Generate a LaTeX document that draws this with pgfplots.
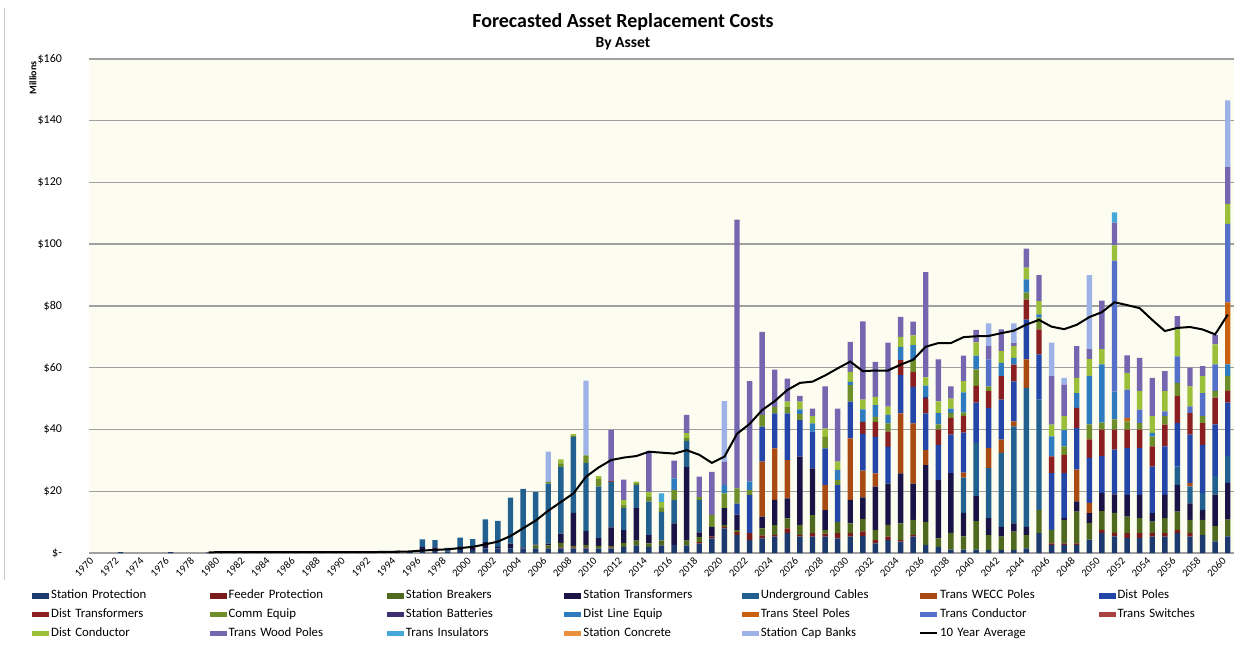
\documentclass[border=0pt]{standalone}
\usepackage{pgfplots}
\pgfplotsset{compat=1.18}
\usepackage{pgfplotstable}
\usepackage{fontspec}
\setmainfont{Carlito}

\definecolor{cSP}{HTML}{1C3A6E}
\definecolor{cFP}{HTML}{7A1C1C}
\definecolor{cSB}{HTML}{4F6A1E}
\definecolor{cST}{HTML}{1A1446}
\definecolor{cUC}{HTML}{22608F}
\definecolor{cWE}{HTML}{A84A12}
\definecolor{cDP}{HTML}{2446A8}
\definecolor{cDT}{HTML}{8B1E20}
\definecolor{cCE}{HTML}{6E8E2A}
\definecolor{cSBA}{HTML}{3E2F6E}
\definecolor{cDLE}{HTML}{2E7BBF}
\definecolor{cTSP}{HTML}{C8600F}
\definecolor{cTC}{HTML}{5470C8}
\definecolor{cTS}{HTML}{A8413F}
\definecolor{cDC}{HTML}{9CBF3A}
\definecolor{cTWP}{HTML}{7566B0}
\definecolor{cTI}{HTML}{45A8D8}
\definecolor{cSC}{HTML}{E8903E}
\definecolor{cSCB}{HTML}{9DB2E6}
\definecolor{bgc}{RGB}{252,253,240}
\definecolor{gridc}{HTML}{A0A0A0}

\pgfplotstableread{
yr sp fp sb st uc we dp dt ce sba dle tsp tc ts dc twp ti sc scb
1970 0 0 0 0 0 0 0 0 0 0 0 0 0 0 0 0 0 0 0
1971 0 0 0 0 0 0 0 0 0 0 0 0 0 0 0 0 0 0 0
1972 0.3 0 0 0 0 0 0 0 0 0 0 0 0 0 0 0 0 0 0
1973 0 0 0 0 0 0 0 0 0 0 0 0 0 0 0 0 0 0 0
1974 0 0 0 0 0 0 0 0 0 0 0 0 0 0 0 0 0 0 0
1975 0 0 0 0 0 0 0 0 0 0 0 0 0 0 0 0 0 0 0
1976 0.3 0 0 0 0 0 0 0 0 0 0 0 0 0 0 0 0 0 0
1977 0 0 0 0 0 0 0 0 0 0 0 0 0 0 0 0 0 0 0
1978 0 0 0 0 0 0 0 0 0 0 0 0 0 0 0 0 0 0 0
1979 0.2 0 0 0 0 0 0 0 0 0 0 0 0 0 0 0 0 0 0
1980 0.3 0 0 0 0 0 0 0 0 0 0 0 0 0 0 0 0 0 0
1981 0.3 0 0 0 0 0 0 0 0 0 0 0 0 0 0 0 0 0 0
1982 0.3 0 0 0 0 0 0 0 0 0 0 0 0 0 0 0 0 0 0
1983 0.3 0 0 0 0 0 0 0 0 0 0 0 0 0 0 0 0 0 0
1984 0.3 0 0 0 0 0 0 0 0 0 0 0 0 0 0 0 0 0 0
1985 0.3 0 0 0 0 0 0 0 0 0 0 0 0 0 0 0 0 0 0
1986 0.3 0 0 0 0 0 0 0 0 0 0 0 0 0 0 0 0 0 0
1987 0.3 0 0 0 0 0 0 0 0 0 0 0 0 0 0 0 0 0 0
1988 0.4 0 0 0 0 0 0 0 0 0 0 0 0 0 0 0 0 0 0
1989 0.3 0 0 0 0 0 0 0 0 0 0 0 0 0 0 0 0 0 0
1990 0.3 0 0 0 0 0 0 0 0 0 0 0 0 0 0 0 0 0 0
1991 0.3 0 0 0 0 0 0 0 0 0 0 0 0 0 0 0 0 0 0
1992 0.5 0 0 0 0 0 0 0 0 0 0 0 0 0 0 0 0 0 0
1993 0.3 0 0 0 0 0 0 0 0 0 0 0 0 0 0 0 0 0 0
1994 0.8 0 0 0 0 0 0 0 0 0 0 0 0 0 0 0 0 0 0
1995 0.4 0 0 0 0 0 0 0 0 0 0 0 0 0 0 0 0 0 0
1996 1 0 0 1 2.4 0 0 0 0 0 0 0 0 0 0 0 0 0 0
1997 1 0 0 0.8 2.4 0 0 0 0 0 0 0 0 0 0 0 0 0 0
1998 0.5 0 0 0 1.2 0 0 0 0 0 0 0 0 0 0 0 0 0 0
1999 1 0 0 1 3 0 0 0 0 0 0 0 0 0 0 0 0 0 0
2000 1 0 0 0.8 2.7 0 0 0 0 0 0 0 0 0 0 0 0 0 0
2001 1.5 0 0 2 7.4 0 0 0 0 0 0 0 0 0 0 0 0 0 0
2002 1.5 0 0 0.5 8.4 0 0 0 0 0 0 0 0 0 0 0 0 0 0
2003 1.5 0 0 1.5 14.9 0 0 0 0 0 0 0 0 0 0 0 0 0 0
2004 1.5 0 0 0.3 19 0 0 0 0 0 0 0 0 0 0 0 0 0 0
2005 1.5 0 1 0.2 17 0 0 0 0 0 0 0 0 0 0 0 0 0 0
2006 1.5 0.2 0.8 0.5 19.5 0 0 0 0.5 0 0 0 0 0 0 0 0 0 9.8
2007 1.5 0.3 1.5 3 21.5 0 0 0 1.2 0 0 0 0 0 1.3 0 0 0 0
2008 1.5 0.3 0.5 10.7 24.6 0 0 0 0.5 0 0 0 0 0 0.4 0 0 0 0
2009 1.5 0.3 0.8 4.5 22 0 0 0 2.5 0 0 0 0 0 0 0 0 0 24.2
2010 1.5 0 0.8 2.5 16.7 0 0 0 2.5 0 0 0 0 0 0.9 0 0 0 0
2011 1.5 0.3 0.5 6 14.7 0 0 0 0 0 0 0 0 0.4 0 16.4 0 0 0
2012 2 0 1.3 4.1 7.1 0 0 0 1.2 0 0 0 0 0 1.5 6.6 0 0 0
2013 2.5 0 1.5 10.5 7.5 0 0 0 0.6 0 0 0 0 0 0.5 0 0 0 0
2014 2 0 1.1 2.7 10.8 0 0 0 1.6 0 0 0 0 0 1.6 13.3 0 0 0
2015 2.5 0 1.6 0 9.2 0 0 0 1.5 0 0 0 0 0 1.7 0 2.8 0 0
2016 2.6 0 0 7 7.6 0 0 0 3.2 0 3.8 0 0 0 0 5.7 0 0 0
2017 2.5 0 1.5 23.8 8.5 0 0 0 1 0 0 0 0 0 1.5 5.9 0 0 0
2018 3 0.5 1.7 1.5 10.5 0 0 0 1 0 0 0 0 0 0 6.5 0 0 0
2019 4.7 0.6 0 3.2 0 0 0 0 3.8 0 0 0 0 0 0 14 0 0 0
2020 8 0.5 0.5 5.5 0 0 0 0 4.8 0 2.7 0 0 0 0 7.6 0 0 19.6
2021 5.8 1 0.6 5 0 0 3.6 0 4.9 0 0 0 0 0 0 87.1 0 0 0
2022 4.2 2.2 0 0 0 0 12.4 0 1.6 0 2.7 0 0 0 0 32.6 0 0 0
2023 4.7 1 2.3 3.8 0 17.8 11.3 0 3.8 0 0 0 0 0 0 26.9 0 0 0
2024 5.3 0.5 3.2 8.2 0 16.7 11.3 0 2.1 0 0 0 0 0 0 12.1 0 0 0
2025 6.4 1.6 3.2 6.5 0 12.4 15.1 0 2.2 0 0 0 0 0 1.6 7.5 0 0 0
2026 5.3 0.6 3.1 22.2 0 0 11.8 0 2 0 1.5 0 0 0 2.5 1.9 0 0 0
2027 5.3 1.1 5.9 15.1 0 0 11.9 0 0 0 2.7 0 0 0 2.3 2.5 0 0 0
2028 5.3 1 1.1 6.5 0 8.1 11.9 0 3.7 0 0 0 0 0 2.7 13.7 0 0 0
2029 4.7 1.7 3.7 0 0 0 11.9 0 1.6 0 3.3 0 0 0 2.7 17.2 0 0 0
2030 5.3 1.1 3.2 7.6 0 19.9 11.9 0 5.4 0 1 0 0 0 3.3 9.7 0 0 0
2031 5.5 1.5 4 7 0 8.7 11.9 3.9 0 0 4 0 0 0 3.2 25.3 0 0 0
2032 3.1 1.1 3.2 14.1 0 4.3 11.8 4.9 1.6 0 3.8 0 0 0 2.7 11.3 0 0 0
2033 4.2 1.1 3.7 13.5 0 0 11.9 4.9 2.7 0 2.7 0 0 0 2.7 20.7 0 0 0
2034 3.7 0.5 5.4 16.2 0 19.4 12.4 4.9 0 0 4.3 0 0 0 3.2 6.5 0 0 0
2035 5.3 0.5 4.9 11.8 0 19.5 11.8 4.9 3.8 0 4.8 0 0 0 3.2 4.4 0 0 0
2036 2.6 0 7.5 18.4 0 4.8 11.9 4.8 0 0.4 3.8 0 0 0 2.7 34.1 0 0 0
2037 2 0 2.7 18.9 0 0 11.4 5 1.7 0 3.6 0 0 0 3.8 13.6 0 0 0
2038 1.1 0 5.4 19.4 0 0 12.4 5.5 1.5 0 1.5 0 0 0 3.2 4 0 0 0
2039 1.1 0 4.3 7.6 11.4 1.6 13 5.4 1.1 0 6.5 0 0 0 3.7 8.2 0 0 0
2040 1.1 0 9.2 8.1 17.3 0 13 5.4 5.4 0 4.4 0 0 0 4.3 4.1 0 0 0
2041 1 0 4.8 5.5 16.2 6.5 13 5.4 1.6 0 0 0 8.7 0 0 4.3 0 0 7.4
2042 1 0 4.3 3.2 23.9 4.3 13 7.6 0 0 4.3 0 0 0 3.8 7 0 0 0
2043 1 0 5.9 2.7 31.4 1.6 13 5.4 0 0 2.2 0 0 0 3.8 1 0 0 6.4
2044 1.5 0 4.3 2.7 45 9.2 12.9 6.5 2.2 0 4.3 0 0 0 3.8 6.2 0 0 0
2045 6.4 0 7.6 0 35.7 0 14.6 8.1 3.8 0 1.1 0 0 0 4.3 8.4 0 0 0
2046 2.6 0.5 4.4 0 0 0 18.4 5.4 0 0 6.5 0 0 0 3.8 15.7 0 0 10.8
2047 2.6 0.5 7.6 0.6 0 0 14.6 5.9 2.7 0 5.4 0 0 0 4.4 10.2 0 0 2.2
2048 2.6 0.5 10.3 3.3 0 10.3 13.5 6.5 0 0 4.8 0 0 0 4.9 10.3 0 0 0
2049 4.3 0 5.4 3.2 0 3.3 14.6 6 4.9 0 15.7 0 0 0 5.4 3.2 0 0 24
2050 6.5 1 6.1 5.9 0 0 11.9 8.6 2.2 0 18.9 0 0 0 4.9 15.7 0 0 0
2051 5.4 1.1 6.5 6 0 0 14.5 6.5 3.3 0 9 0 42.4 0 4.9 7.4 3.3 0 0
2052 4.8 1.6 5.4 7 0 0 15.2 6 2.6 0 0 1.1 9.2 0 5.4 5.7 0 0 0
2053 4.8 1.6 4.9 7.5 0 0 15.2 6 2.1 0 0 0 4.3 0 6 10.8 0 0 0
2054 5.3 1.1 3.8 2.7 0 0 15.1 6.5 3.2 0 1.2 0 0 0 5.4 12.4 0 0 0
2055 5.3 1.1 4.9 7.5 0 0 15.7 7.1 2.7 0 0 0 1.6 0 6.5 6.5 0 0 0
2056 6.4 1.1 5.9 8.7 5.9 0 14.1 8.7 4.3 0 0 0 8.6 0 8.7 4.3 0 0 0
2057 5.3 1.1 4.3 5.4 5.5 1 15.7 7 0 0 0 0 2.2 0 6.5 6 0 0 0
2058 5.8 0 4.9 3.3 5.4 0 15.6 7.1 2.2 0 0 0 7.5 0 5.5 3.2 0 0 0
2059 3.8 0 4.9 10.2 6 0 16.8 8.6 2.2 0 0 0 8.6 0 6.5 3 0 0 0
2060 5.4 0 5.4 11.9 8.7 0 17.3 3.8 4.9 0 3.7 20.1 25.4 0 6.5 11.9 0 0 21.6
}\bars

\pgfplotstableread{
yr avg
1979 0.2
1980 0.3
1981 0.3
1982 0.3
1983 0.3
1984 0.3
1985 0.3
1986 0.3
1987 0.3
1988 0.3
1989 0.3
1990 0.3
1991 0.3
1992 0.3
1993 0.35
1994 0.4
1995 0.5
1996 0.8
1997 1.0
1998 1.2
1999 1.6
2000 2.0
2001 2.8
2002 3.7
2003 5.5
2004 8
2005 10.5
2006 13.7
2007 16.5
2008 19.3
2009 24.7
2010 27.7
2011 30.1
2012 30.9
2013 31.4
2014 32.8
2015 32.5
2016 32.2
2017 33.3
2018 31.8
2019 29.2
2020 31.2
2021 38.6
2022 41.8
2023 46.3
2024 49.2
2025 52.8
2026 55.1
2027 55.5
2028 57.5
2029 59.8
2030 62
2031 58.9
2032 59.1
2033 59.1
2034 61
2035 62.6
2036 66.8
2037 68
2038 68
2039 69.9
2040 70.2
2041 70.3
2042 71.2
2043 72
2044 74
2045 75.5
2046 73.3
2047 72.5
2048 73.9
2049 76.4
2050 78
2051 81.2
2052 80.3
2053 79.3
2054 75.5
2055 71.9
2056 72.9
2057 73.2
2058 72.4
2059 70.8
2060 77.2
}\avgtab

\pgfplotsset{
  sw/.style={fill=#1, draw=none,
    legend image code/.code={\fill[#1] (0pt,-1.3pt) rectangle (8.5pt,1.3pt);}},
}

\begin{document}
\begin{tikzpicture}
\path[use as bounding box, fill=white] (-44.5pt,-47.5pt) rectangle (578.5pt,276.5pt);
\draw[gray!40, line width=0.5pt] (-42pt,272.5pt) -- (-42pt,-13.5pt);
\begin{axis}[
  at={(0pt,0pt)}, anchor=south west,
  scale only axis, width=572.5pt, height=247pt,
  xmin=1969.5, xmax=2060.5, ymin=0, ymax=160,
  ybar stacked, bar width=2.7pt,
  axis background/.style={fill=bgc},
  axis line style={draw=none},
  major tick length=0pt,
  ymajorgrids, grid style={gridc, line width=0.75pt},
  ytick={0,20,...,160},
  yticklabels={\$-,\$20,\$40,\$60,\$80,\$100,\$120,\$140,\$160},
  yticklabel style={font=\fontsize{6}{7}\selectfont, xshift=-10pt},
  xtick={1970,1972,...,2060},
  xticklabel style={font=\fontsize{5.3}{6}\selectfont, rotate=45, anchor=east,
    /pgf/number format/1000 sep={}, xshift=0pt, yshift=-1pt},
  /pgf/number format/assume math mode=true,
  legend columns=7,
  legend cell align=left,
  legend style={at={(-0.0552,-0.062)}, anchor=north west, draw=none, fill=none,
    font=\fontsize{6.4}{7}\selectfont,
    column sep=0pt, row sep=1.4pt,
    nodes={text width=78.2pt, inner xsep=1pt, inner ysep=1pt}},
]
\addplot[sw=cSP] table[x=yr,y=sp]{\bars};
\addlegendentry{Station Protection}
\addplot[sw=cFP] table[x=yr,y=fp]{\bars};
\addlegendentry{Feeder Protection}
\addplot[sw=cSB] table[x=yr,y=sb]{\bars};
\addlegendentry{Station Breakers}
\addplot[sw=cST] table[x=yr,y=st]{\bars};
\addlegendentry{Station Transformers}
\addplot[sw=cUC] table[x=yr,y=uc]{\bars};
\addlegendentry{Underground Cables}
\addplot[sw=cWE] table[x=yr,y=we]{\bars};
\addlegendentry{Trans WECC Poles}
\addplot[sw=cDP] table[x=yr,y=dp]{\bars};
\addlegendentry{Dist Poles}
\addplot[sw=cDT] table[x=yr,y=dt]{\bars};
\addlegendentry{Dist Transformers}
\addplot[sw=cCE] table[x=yr,y=ce]{\bars};
\addlegendentry{Comm Equip}
\addplot[sw=cSBA] table[x=yr,y=sba]{\bars};
\addlegendentry{Station Batteries}
\addplot[sw=cDLE] table[x=yr,y=dle]{\bars};
\addlegendentry{Dist Line Equip}
\addplot[sw=cTSP] table[x=yr,y=tsp]{\bars};
\addlegendentry{Trans Steel Poles}
\addplot[sw=cTC] table[x=yr,y=tc]{\bars};
\addlegendentry{Trans Conductor}
\addplot[sw=cTS] table[x=yr,y=ts]{\bars};
\addlegendentry{Trans Switches}
\addplot[sw=cDC] table[x=yr,y=dc]{\bars};
\addlegendentry{Dist Conductor}
\addplot[sw=cTWP] table[x=yr,y=twp]{\bars};
\addlegendentry{Trans Wood Poles}
\addplot[sw=cTI] table[x=yr,y=ti]{\bars};
\addlegendentry{Trans Insulators}
\addplot[sw=cSC] table[x=yr,y=sc]{\bars};
\addlegendentry{Station Concrete}
\addplot[sw=cSCB] table[x=yr,y=scb]{\bars};
\addlegendentry{Station Cap Banks}
\addlegendimage{black, line width=1pt,
  legend image code/.code={\draw[black, line width=1pt] (0pt,0pt) -- (8.5pt,0pt);}}
\addlegendentry{10 Year Average}
\end{axis}
\begin{axis}[
  at={(0pt,0pt)}, anchor=south west,
  scale only axis, width=572.5pt, height=247pt,
  xmin=1969.5, xmax=2060.5, ymin=0, ymax=160,
  axis lines=none,
]
\addplot[black, line width=1pt, sharp plot, no marks] table[x=yr,y=avg]{\avgtab};
\end{axis}
\node[font=\bfseries\fontsize{10}{11}\selectfont] at (267pt,265.5pt) {Forecasted Asset Replacement Costs};
\node[font=\bfseries\fontsize{7.8}{8}\selectfont] at (267pt,254.5pt) {By Asset};
\node[font=\bfseries\fontsize{5}{6}\selectfont, rotate=90] at (-28pt,237.5pt) {Millions};
\end{tikzpicture}
\end{document}
